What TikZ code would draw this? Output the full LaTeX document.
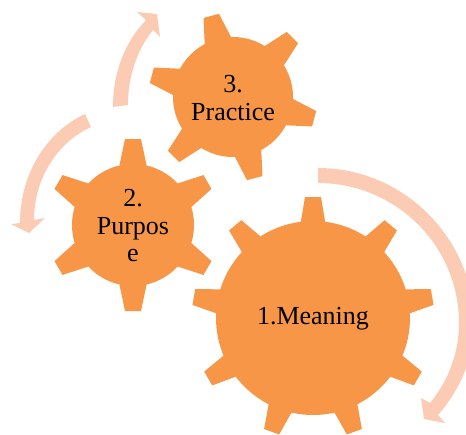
\documentclass[tikz,border=0pt]{standalone}
\usepackage{fontspec}
\setmainfont{Liberation Serif}
\definecolor{gearorange}{HTML}{F79646}
\definecolor{arrowpeach}{HTML}{FBCBB3}
\tikzset{
  gearbody/.style={circle,fill=gearorange,inner sep=0pt,outer sep=0pt},
  gearlabel/.style={align=center,inner sep=0pt,text=black,font=\fontsize{26}{27.5}\selectfont},
  cyclearrow/.style={fill=arrowpeach,draw=none}
}
\newcommand{\gearteeth}[7]{% cx cy r R hb ht angles
  \foreach \a in {#7} {
    \fill[gearorange,shift={(#1,#2)},rotate=\a]
      (#3-6,-#5) -- (#3-1,-#5) -- (#4,-#6) -- (#4,#6) -- (#3-1,#5) -- (#3-6,#5) -- cycle;
  }
}
\begin{document}
\begin{tikzpicture}[x=1pt,y=-1pt]
\useasboundingbox (0,0) rectangle (466,434);
\clip (0,0) rectangle (466,434);
% arrows
\fill[cyclearrow] (318,168) .. controls (405,168) and (474,240) .. (474,323)
  .. controls (474,358) and (460,390) .. (438,415) -- (445,423) -- (424,419) -- (421,398) -- (430,403)
  .. controls (449,380) and (459,352) .. (459,323)
  .. controls (459,246) and (396,183) .. (318,183) -- cycle;
\fill[cyclearrow] (113,107) .. controls (113,72) and (125,42) .. (146,20) -- (137,12) -- (157,14) -- (160,37) -- (153,30)
  .. controls (137,50) and (128,76) .. (128,105) -- cycle;
\fill[cyclearrow] (85,114) .. controls (50,130) and (20,170) .. (20,223) -- (11,224) -- (29,233) -- (45,218) -- (34,220)
  .. controls (34,178) and (58,142) .. (91,127) -- cycle;
% gears
\gearteeth{313}{318}{97}{121}{12.2}{8}{90,50,10,-30,-70,-110,-150,170,130}
\node[gearbody,minimum size=194pt] (gearone) at (313,318) {};
\node[gearlabel] (labelone) at (313,319) {1.Meaning};
\gearteeth{133}{225}{61}{86}{13.5}{8}{90,30,-30,-90,-150,150}
\node[gearbody,minimum size=122pt] (geartwo) at (133,225) {};
\node[gearlabel] (labeltwo) at (133,226) {2.\\Purpos\\e};
\gearteeth{233}{97}{60}{84}{13.5}{8}{105,45,-15,-75,-135,165}
\node[gearbody,minimum size=120pt] (gearthree) at (233,97) {};
\node[gearlabel] (labelthree) at (233,98) {3.\\Practice};
\end{tikzpicture}
\end{document}
